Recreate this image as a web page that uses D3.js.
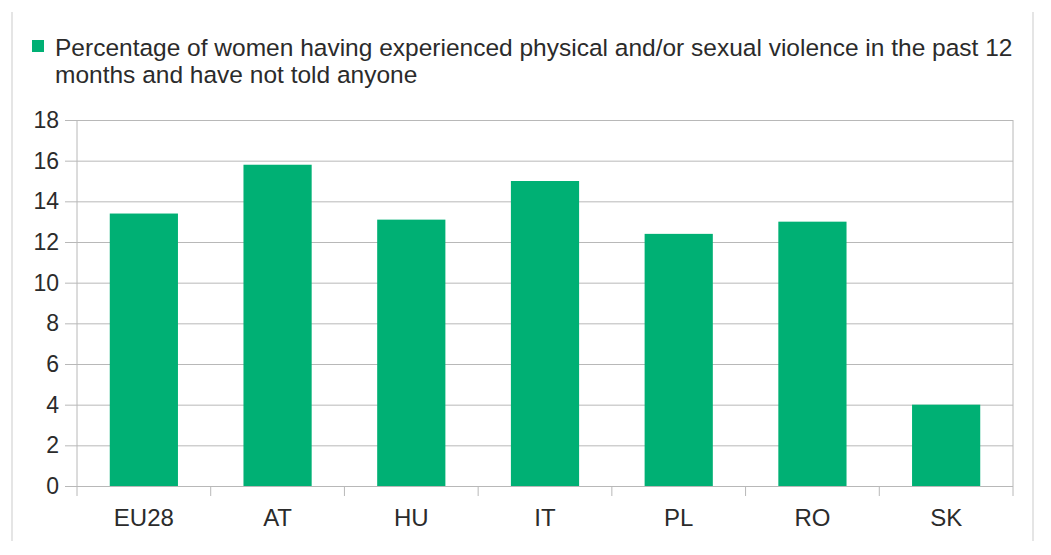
<!DOCTYPE html>
<html>
<head>
<meta charset="utf-8">
<script src="https://cdn.jsdelivr.net/npm/d3@7"></script>
<style>
  body { margin: 0; background: #fff; }
  text { font-family: "Liberation Sans", Arial, sans-serif; fill: #2b2b2b; }
</style>
</head>
<body>
<div id="chart-area"></div>
<script>
// data
const countries = ["EU28", "AT", "HU", "IT", "PL", "RO", "SK"]
const notTold = [13.4, 15.8, 13.1, 15.0, 12.4, 13.0, 4.0]
const yTicks = [0, 2, 4, 6, 8, 10, 12, 14, 16, 18]
const legendLines = [
    "Percentage of women having experienced physical and/or sexual violence in the past 12",
    "months and have not told anyone"
]

const W = 1051, H = 555
const MARGIN = { LEFT: 77, RIGHT: 38, TOP: 120, BOTTOM: 69 }
const WIDTH = W - MARGIN.LEFT - MARGIN.RIGHT
const HEIGHT = H - MARGIN.TOP - MARGIN.BOTTOM

const svg = d3.select("#chart-area").append("svg")
    .attr("width", W)
    .attr("height", H)

// outer frame (side lines only)
svg.append("line")
    .attr("x1", 12).attr("x2", 12).attr("y1", 12).attr("y2", 541)
    .attr("stroke", "#ddd").attr("stroke-width", 1.5)
svg.append("line")
    .attr("x1", 1033).attr("x2", 1033).attr("y1", 12).attr("y2", 541)
    .attr("stroke", "#ddd").attr("stroke-width", 1.5)

// legend
svg.append("rect")
    .attr("x", 32).attr("y", 40)
    .attr("width", 12).attr("height", 12)
    .attr("fill", "#00b074")
svg.selectAll(".legend-text")
    .data(legendLines)
    .enter().append("text")
    .attr("class", "legend-text")
    .attr("x", 55)
    .attr("y", (d, i) => 56 + i * 27)
    .attr("font-size", "24.5px")
    .text(d => d)

const g = svg.append("g")
    .attr("transform", `translate(${MARGIN.LEFT}, ${MARGIN.TOP})`)

// scales
const x = d3.scaleBand()
    .domain(countries)
    .range([0, WIDTH])
    .paddingInner(0.49)
    .paddingOuter(0.245)
const y = d3.scaleLinear()
    .domain([0, 18])
    .range([HEIGHT, 0])

// gridlines + y axis
const yAxisCall = d3.axisLeft(y)
    .tickValues(yTicks)
    .tickSize(-WIDTH - 12)
    .tickPadding(6)
const yAxis = g.append("g")
    .attr("class", "y axis")
    .attr("transform", "translate(-12, 0)")
    .call(yAxisCall)
yAxis.select(".domain").remove()
yAxis.selectAll("line").attr("stroke", "#b8b8b8")
yAxis.selectAll("text")
    .attr("font-size", "23px")
    .attr("fill", "#2b2b2b")

// vertical axis lines
g.append("line")
    .attr("x1", 0).attr("x2", 0).attr("y1", 0).attr("y2", HEIGHT)
    .attr("stroke", "#b8b8b8")
g.append("line")
    .attr("x1", WIDTH).attr("x2", WIDTH).attr("y1", 0).attr("y2", HEIGHT)
    .attr("stroke", "#b8b8b8")

// bars
g.selectAll(".bar")
    .data(notTold)
    .enter().append("rect")
    .attr("class", "bar")
    .attr("x", (d, i) => x(countries[i]))
    .attr("y", d => y(d))
    .attr("width", x.bandwidth())
    .attr("height", d => HEIGHT - y(d))
    .attr("fill", "#00b074")

// x axis: category ticks at band boundaries
const step = x.step()
const boundaries = d3.range(countries.length + 1).map(i => i * step)
g.selectAll(".xtick")
    .data(boundaries)
    .enter().append("line")
    .attr("class", "xtick")
    .attr("x1", d => d).attr("x2", d => d)
    .attr("y1", HEIGHT).attr("y2", HEIGHT + 10)
    .attr("stroke", "#b8b8b8")

g.selectAll(".xlabel")
    .data(countries)
    .enter().append("text")
    .attr("class", "xlabel")
    .attr("x", d => x(d) + x.bandwidth() / 2)
    .attr("y", HEIGHT + 40)
    .attr("text-anchor", "middle")
    .attr("font-size", "24px")
    .text(d => d)
</script>
</body>
</html>
